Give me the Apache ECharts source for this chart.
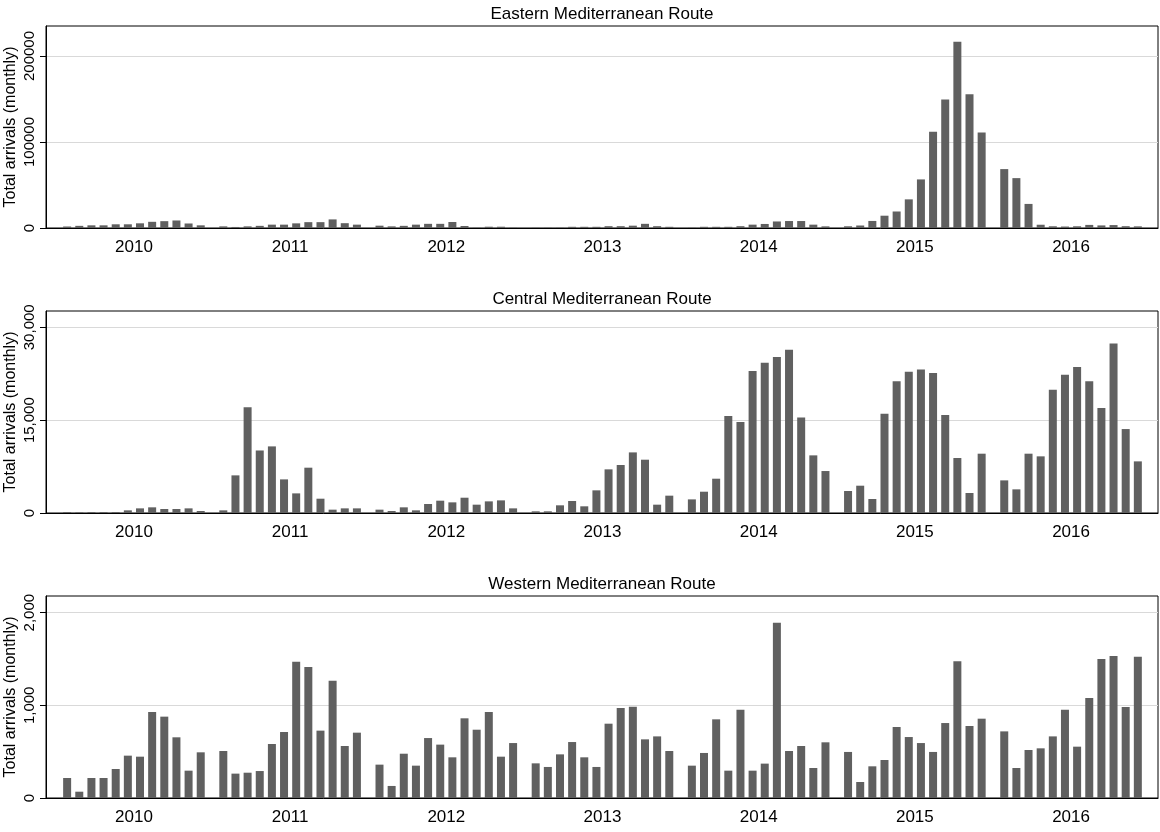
<!DOCTYPE html>
<html>
<head>
<meta charset="utf-8">
<title>Monthly arrivals by Mediterranean route</title>
<script src="https://cdn.jsdelivr.net/npm/echarts@6/dist/echarts.min.js"></script>
<style>
  html, body { margin: 0; padding: 0; background: #fff; }
  #chart { width: 1160px; height: 832px; }
</style>
</head>
<body>
<div id="chart"></div>
<script>
// Years shown on the horizontal axis; each year holds 12 monthly bars.
const YEARS = [2010, 2011, 2012, 2013, 2014, 2015, 2016];

// Monthly arrivals, January 2010 to December 2016, one array per route.
const eastern = [
  1750, 2500, 3100, 3100, 4300, 4300, 5450, 7200, 7950, 8750, 5250, 3100,
  1900, 1200, 1900, 2500, 3900, 3900, 5400, 6800, 6800, 10000, 5600, 3900,
  2700, 1900, 2500, 3900, 4850, 4850, 7000, 2300, 200, 1500, 1500, 200,
  200, 200, 200, 1400, 1400, 1400, 2100, 2100, 2700, 4850, 2100, 1400,
  200, 1400, 1400, 1400, 2100, 3900, 4700, 7600, 8100, 8100, 3900, 1900,
  2000, 2900, 8200, 14300, 19200, 33300, 56500, 112000, 149500, 216500, 155500, 111000,
  68500, 58000, 28000, 3800, 2000, 1700, 2000, 3600, 3000, 3400, 2100, 1900
];
const central = [
  150, 100, 150, 150, 150, 430, 750, 915, 650, 650, 750, 320,
  430, 6080, 17100, 10100, 10760, 5430, 3170, 7320, 2310, 540, 750, 750,
  540, 320, 915, 430, 1450, 1990, 1720, 2470, 1345, 1880, 2040, 750,
  270, 270, 1240, 1940, 1080, 3660, 7050, 7750, 9790, 8610, 1345, 2800,
  2200, 3440, 5540, 15660, 14690, 22920, 24260, 25180, 26370, 15440, 9310, 6780,
  3550, 4410, 2260, 16030, 21300, 22800, 23190, 22600, 15820, 8880, 3230, 9580,
  5270, 3820, 9580, 9150, 19910, 22330, 23570, 21300, 16950, 27390, 13560, 8340
];
const western = [
  216, 68, 216, 216, 313, 457, 446, 928, 878, 655, 295, 493,
  507, 263, 273, 291, 583, 712, 1471, 1414, 727, 1266, 561, 705,
  360, 130, 478, 349, 647, 576, 439, 860, 737, 928, 446, 593,
  374, 335, 471, 604, 439, 335, 802, 971, 986, 633, 665, 507,
  349, 486, 849, 295, 953, 295, 371, 1892, 507, 561, 324, 601,
  497, 173, 342, 410, 766, 658, 593, 497, 809, 1475, 777, 856,
  719, 324, 518, 536, 665, 953, 554, 1079, 1500, 1532, 982, 1525
];

// Panel titles and y-axis tick values.
const titles = ['Eastern Mediterranean Route', 'Central Mediterranean Route', 'Western Mediterranean Route'];
const yTicks = [
  [0, 100000, 200000],
  [0, 15000, 30000],
  [0, 1000, 2000]
];

// Layout: each year is a group of 12 month slots followed by a small gap.
const YEAR_SPAN = 12.86;
const X_MIN = -1.74;
const X_MAX = (YEARS.length - 1) * YEAR_SPAN + 11 + 1.66;
const yearCenters = YEARS.map((y, i) => i * YEAR_SPAN + 5.5);

const FONT = "'Liberation Sans', Arial, Helvetica, sans-serif";
const BAR_COLOR = '#606060';
const GRID_TOPS = [26, 311, 596];
const GRID_H = 202;
const Y_MAX = [234900, 32630, 2180];

function toPoints(values) {
  return values.map((v, i) => [Math.floor(i / 12) * YEAR_SPAN + (i % 12), v]);
}

const routes = [eastern, central, western];
const yFormat = [
  v => String(v),
  v => v.toLocaleString('en-US'),
  v => v.toLocaleString('en-US')
];

const option = {
  backgroundColor: '#ffffff',
  animation: false,
  textStyle: { fontFamily: FONT },
  title: titles.map((t, i) => ({
    text: t,
    left: 602,
    textAlign: 'center',
    top: GRID_TOPS[i] - 20,
    padding: 0,
    textStyle: { fontFamily: FONT, fontSize: 17, fontWeight: 'normal', color: '#000' }
  })),
  grid: GRID_TOPS.map(top => ({
    left: 46, right: 2, top: top, height: GRID_H,
    outerBoundsMode: 'none',
    containLabel: false,
    show: true, borderColor: '#000', borderWidth: 1, backgroundColor: 'transparent'
  })),
  xAxis: GRID_TOPS.map((t, i) => ({
    type: 'value',
    gridIndex: i,
    min: X_MIN,
    max: X_MAX,
    axisLine: { show: true, onZero: false, lineStyle: { color: '#000', width: 1 } },
    axisTick: { show: false },
    splitLine: { show: false },
    axisLabel: {
      customValues: yearCenters,
      formatter: v => String(YEARS[Math.round((v - 5.5) / YEAR_SPAN)]),
      fontFamily: FONT, fontSize: 17, color: '#000', margin: 11
    }
  })),
  yAxis: GRID_TOPS.map((t, i) => ({
    type: 'value',
    gridIndex: i,
    min: 0,
    max: Y_MAX[i],
    interval: yTicks[i][1],
    name: 'Total arrivals (monthly)',
    nameLocation: 'middle',
    nameRotate: 90,
    nameGap: 27,
    nameMoveOverlap: false,
    nameTextStyle: { fontFamily: FONT, fontSize: 16, color: '#000' },
    axisLine: { show: true, onZero: false, lineStyle: { color: '#000', width: 1 } },
    axisTick: { show: true, length: 6, customValues: yTicks[i], lineStyle: { color: '#000' } },
    axisLabel: {
      customValues: yTicks[i],
      rotate: 90,
      formatter: yFormat[i],
      fontFamily: FONT, fontSize: 15, color: '#000', margin: 9
    },
    splitLine: { show: true, lineStyle: { color: '#d9d9d9', width: 1 } }
  })),
  series: routes.map((vals, i) => ({
    type: 'bar',
    xAxisIndex: i,
    yAxisIndex: i,
    barWidth: 8,
    itemStyle: { color: BAR_COLOR },
    data: toPoints(vals)
  }))
};

const chart = echarts.init(document.getElementById('chart'), null, { renderer: 'canvas' });
chart.setOption(option);
</script>
</body>
</html>
